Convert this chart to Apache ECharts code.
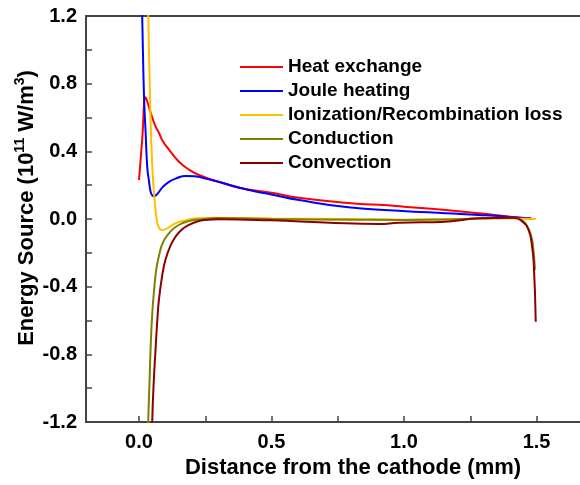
<!DOCTYPE html>
<html><head><meta charset="utf-8">
<script src="https://cdn.jsdelivr.net/npm/echarts@6/dist/echarts.min.js"></script>
<style>html,body{margin:0;padding:0;background:#fff}#c{width:580px;height:485px}</style>
</head><body><div id="c"></div>
<script>
const seriesNames = ['Heat exchange', 'Joule heating', 'Ionization/Recombination loss', 'Conduction', 'Convection'];
const seriesColors = ['#ff0000', '#0000ff', '#ffc000', '#808000', '#8b0000'];

const heatX = [0.0, 0.012, 0.025, 0.032, 0.038, 0.05, 0.063, 0.075, 0.09, 0.113, 0.15, 0.19, 0.226, 0.3, 0.377, 0.5, 0.604, 0.79, 0.906, 1.0, 1.157, 1.283, 1.41, 1.48];
const heatY = [0.23, 0.47, 0.72, 0.69, 0.66, 0.60, 0.545, 0.51, 0.46, 0.41, 0.34, 0.29, 0.26, 0.22, 0.185, 0.155, 0.125, 0.094, 0.084, 0.073, 0.053, 0.034, 0.012, 0.005];

const jouleX = [0.006, 0.012, 0.019, 0.025, 0.031, 0.038, 0.044, 0.05, 0.057, 0.07, 0.09, 0.113, 0.14, 0.176, 0.21, 0.25, 0.3, 0.415, 0.5, 0.604, 0.79, 0.98, 1.157, 1.283, 1.41, 1.485];
const jouleY = [1.6, 1.2, 0.72, 0.51, 0.31, 0.22, 0.16, 0.14, 0.135, 0.15, 0.19, 0.22, 0.24, 0.254, 0.252, 0.24, 0.22, 0.171, 0.145, 0.112, 0.069, 0.049, 0.034, 0.024, 0.011, 0.0];

const ionX = [0.03, 0.035, 0.042, 0.05, 0.059, 0.069, 0.078, 0.088, 0.1, 0.12, 0.138, 0.17, 0.214, 0.29, 0.5, 0.8, 1.0, 1.2, 1.4, 1.497];
const ionY = [1.6, 1.2, 0.70, 0.31, 0.11, -0.025, -0.058, -0.065, -0.06, -0.042, -0.025, -0.01, 0.004, 0.008, 0.003, 0.0, -0.004, 0.0, 0.003, 0.0];

const condX = [0.033, 0.035, 0.04, 0.044, 0.05, 0.057, 0.065, 0.075, 0.09, 0.113, 0.135, 0.163, 0.2, 0.25, 0.29, 0.5, 0.8, 1.0, 1.2, 1.3, 1.41, 1.447, 1.465, 1.478, 1.486, 1.494];
const condY = [-1.4, -1.19, -0.95, -0.755, -0.56, -0.42, -0.3, -0.22, -0.14, -0.085, -0.05, -0.025, -0.008, 0.0, 0.006, 0.0, -0.004, -0.006, -0.002, 0.004, 0.008, -0.01, -0.045, -0.09, -0.15, -0.30];

const convX = [0.048, 0.05, 0.056, 0.063, 0.069, 0.075, 0.087, 0.1, 0.118, 0.138, 0.16, 0.189, 0.22, 0.25, 0.3, 0.5, 0.7, 0.906, 0.98, 1.157, 1.283, 1.41, 1.447, 1.47, 1.483, 1.49, 1.497];
const convY = [-1.4, -1.19, -0.95, -0.755, -0.6, -0.48, -0.34, -0.24, -0.16, -0.105, -0.065, -0.035, -0.015, -0.006, -0.002, -0.008, -0.02, -0.03, -0.022, -0.016, 0.004, 0.008, -0.016, -0.065, -0.16, -0.28, -0.607];

const xTickValues = [0, 0.25, 0.5, 0.75, 1.0, 1.25, 1.5];
const xLabelValues = [0, 0.5, 1.0, 1.5];
const yTickValues = [-1.2, -1.0, -0.8, -0.6, -0.4, -0.2, 0, 0.2, 0.4, 0.6, 0.8, 1.0, 1.2];
const yLabelValues = [-1.2, -0.8, -0.4, 0, 0.4, 0.8, 1.2];

const xsAll = [heatX, jouleX, ionX, condX, convX];
const ysAll = [heatY, jouleY, ionY, condY, convY];

const FONT = "'Liberation Sans', Arial, sans-serif";
const axisLineStyle = { color: '#444', width: 2 };

const chart = echarts.init(document.getElementById('c'), null, { renderer: 'canvas' });
chart.setOption({
  animation: false,
  backgroundColor: '#fff',
  grid: { left: 86, top: 16, right: 0, bottom: 63, containLabel: false },
  legend: {
    orient: 'vertical', left: 240, top: 57, padding: 0, icon: 'rect', itemWidth: 43, itemHeight: 2, itemGap: 4,
    textStyle: { fontFamily: FONT, fontWeight: 'bold', fontSize: 19, color: '#000', lineHeight: 20 },
    data: seriesNames
  },
  xAxis: [{
    type: 'value', min: -0.2, max: 1.664, position: 'bottom',
    axisLine: { show: true, onZero: false, lineStyle: axisLineStyle },
    axisTick: { show: true, inside: true, length: 6, customValues: xTickValues, lineStyle: { color: '#444', width: 1.5 } },
    axisLabel: { customValues: xLabelValues, formatter: v => v.toFixed(1), margin: 10,
      fontFamily: FONT, fontWeight: 'bold', fontSize: 20, color: '#000' },
    splitLine: { show: false },
    name: 'Distance from the cathode (mm)', nameLocation: 'middle', nameGap: 33,
    nameTextStyle: { fontFamily: FONT, fontWeight: 'bold', fontSize: 22, color: '#000', padding: [0, 0, 0, 40] }
  }, {
    type: 'value', min: -0.2, max: 1.664, position: 'top',
    axisLine: { show: true, onZero: false, lineStyle: axisLineStyle },
    axisTick: { show: false }, axisLabel: { show: false }, splitLine: { show: false }
  }],
  yAxis: {
    type: 'value', min: -1.2, max: 1.2,
    axisLine: { show: true, onZero: false, lineStyle: axisLineStyle },
    axisTick: { show: true, inside: true, length: 6, customValues: yTickValues, lineStyle: { color: '#444', width: 1.5 } },
    axisLabel: { customValues: yLabelValues, formatter: v => v.toFixed(1), margin: 9,
      fontFamily: FONT, fontWeight: 'bold', fontSize: 20, color: '#000' },
    splitLine: { show: false },
    name: 'Energy Source (10{sup|11} W/m{sup|3})', nameLocation: 'middle', nameRotate: 90, nameGap: 46,
    nameMoveOverlap: false,
    nameTextStyle: {
      fontFamily: FONT, fontWeight: 'bold', fontSize: 22, color: '#000', lineHeight: 27,
      padding: [0, 0, 0, 22],
      rich: { sup: { fontFamily: FONT, fontWeight: 'bold', fontSize: 14, color: '#000', verticalAlign: 'top', lineHeight: 27 } }
    }
  },
  series: seriesNames.map((n, i) => ({
    name: n, type: 'line', xAxisIndex: 0,
    data: xsAll[i].map((x, k) => [x, ysAll[i][k]]),
    symbol: 'none', smooth: 0.5, clip: true,
    lineStyle: { color: seriesColors[i], width: 2 },
    itemStyle: { color: seriesColors[i] }
  }))
});
</script></body></html>
